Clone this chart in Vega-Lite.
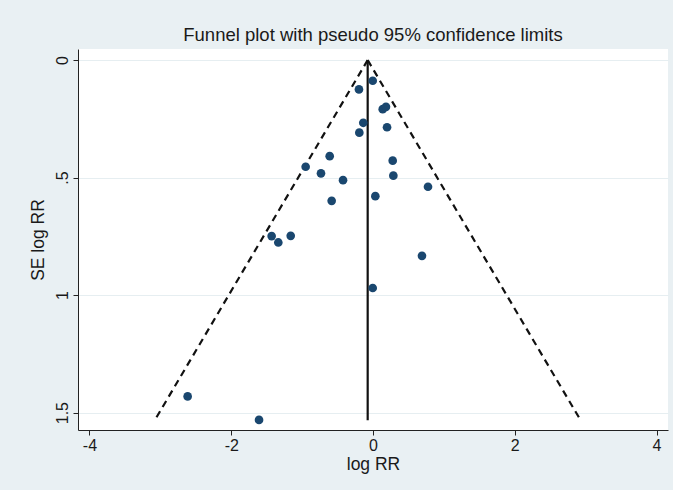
{
  "$schema": "https://vega.github.io/schema/vega-lite/v6.json",
  "width": 590,
  "height": 381,
  "autosize": {"type": "none"},
  "padding": {"left": 78, "top": 49, "right": 5, "bottom": 60},
  "background": "#e9f0f3",
  "title": {
    "text": "Funnel plot with pseudo 95% confidence limits",
    "font": "Liberation Sans",
    "fontSize": 18.5,
    "fontWeight": "normal",
    "color": "#1a1a1a",
    "anchor": "middle",
    "offset": 5
  },
  "config": {
    "view": {"fill": "white", "stroke": null},
    "font": "Liberation Sans"
  },
  "datasets": {
    "studies": [
      {"logRR": -0.004, "se": 0.088},
      {"logRR": -0.198, "se": 0.125},
      {"logRR": 0.137, "se": 0.209},
      {"logRR": 0.183, "se": 0.199},
      {"logRR": -0.137, "se": 0.267},
      {"logRR": -0.193, "se": 0.309},
      {"logRR": 0.198, "se": 0.286},
      {"logRR": -0.611, "se": 0.409},
      {"logRR": 0.278, "se": 0.428},
      {"logRR": -0.95, "se": 0.454},
      {"logRR": -0.734, "se": 0.482},
      {"logRR": 0.287, "se": 0.492},
      {"logRR": -0.423, "se": 0.511},
      {"logRR": 0.776, "se": 0.539},
      {"logRR": -0.583, "se": 0.599},
      {"logRR": 0.033, "se": 0.579},
      {"logRR": -1.43, "se": 0.749},
      {"logRR": -1.336, "se": 0.776},
      {"logRR": -1.161, "se": 0.748},
      {"logRR": 0.691, "se": 0.833},
      {"logRR": -0.004, "se": 0.970},
      {"logRR": -2.615, "se": 1.431},
      {"logRR": -1.608, "se": 1.531}
    ],
    "limits": [
      {"side": "lower", "logRR": -0.075, "se": 0},
      {"side": "lower", "logRR": -3.078, "se": 1.532},
      {"side": "upper", "logRR": -0.075, "se": 0},
      {"side": "upper", "logRR": 2.928, "se": 1.532}
    ],
    "pooled": [
      {"logRR": -0.075, "se": 0},
      {"logRR": -0.075, "se": 1.532}
    ]
  },
  "encoding": {
    "x": {
      "field": "logRR",
      "type": "quantitative",
      "scale": {"domain": [-4.162, 4.162], "nice": false, "zero": false},
      "axis": {
        "title": "log RR",
        "values": [-4, -2, 0, 2, 4],
        "labelExpr": "datum.value < 0 ? '-' + abs(datum.value) : '' + datum.value",
        "grid": false,
        "domainColor": "#222222",
        "tickColor": "#222222",
        "tickSize": 5,
        "labelFontSize": 16,
        "labelColor": "#1a1a1a",
        "labelPadding": 2,
        "labelFlush": false,
        "titleFontSize": 17.5,
        "titleFontWeight": "normal",
        "titleColor": "#1a1a1a",
        "titlePadding": 2
      }
    },
    "y": {
      "field": "se",
      "type": "quantitative",
      "scale": {"domain": [-0.047, 1.574], "nice": false, "zero": false, "reverse": true},
      "axis": {
        "title": "SE log RR",
        "values": [0, 0.5, 1, 1.5],
        "labelExpr": "datum.value == 0 ? '0' : datum.value == 0.5 ? '.5' : datum.value == 1 ? '1' : '1.5'",
        "labelAngle": 270,
        "grid": true,
        "gridColor": "#e6eef1",
        "gridWidth": 1.2,
        "domainColor": "#222222",
        "tickColor": "#222222",
        "tickSize": 5,
        "labelFontSize": 16,
        "labelColor": "#1a1a1a",
        "labelPadding": 3,
        "labelFlush": false,
        "titleFontSize": 17.5,
        "titleFontWeight": "normal",
        "titleColor": "#1a1a1a",
        "titlePadding": 7
      }
    }
  },
  "layer": [
    {
      "data": {"name": "limits"},
      "mark": {"type": "line", "color": "#111111", "strokeWidth": 2.2, "strokeDash": [7, 5]},
      "encoding": {"detail": {"field": "side"}, "order": {"field": "se"}}
    },
    {
      "data": {"name": "pooled"},
      "mark": {"type": "line", "color": "#111111", "strokeWidth": 2.2},
      "encoding": {"order": {"field": "se"}}
    },
    {
      "data": {"name": "studies"},
      "mark": {"type": "point", "filled": true, "shape": "circle", "size": 75, "color": "#1a476f", "opacity": 1},
      "encoding": {}
    }
  ]
}
